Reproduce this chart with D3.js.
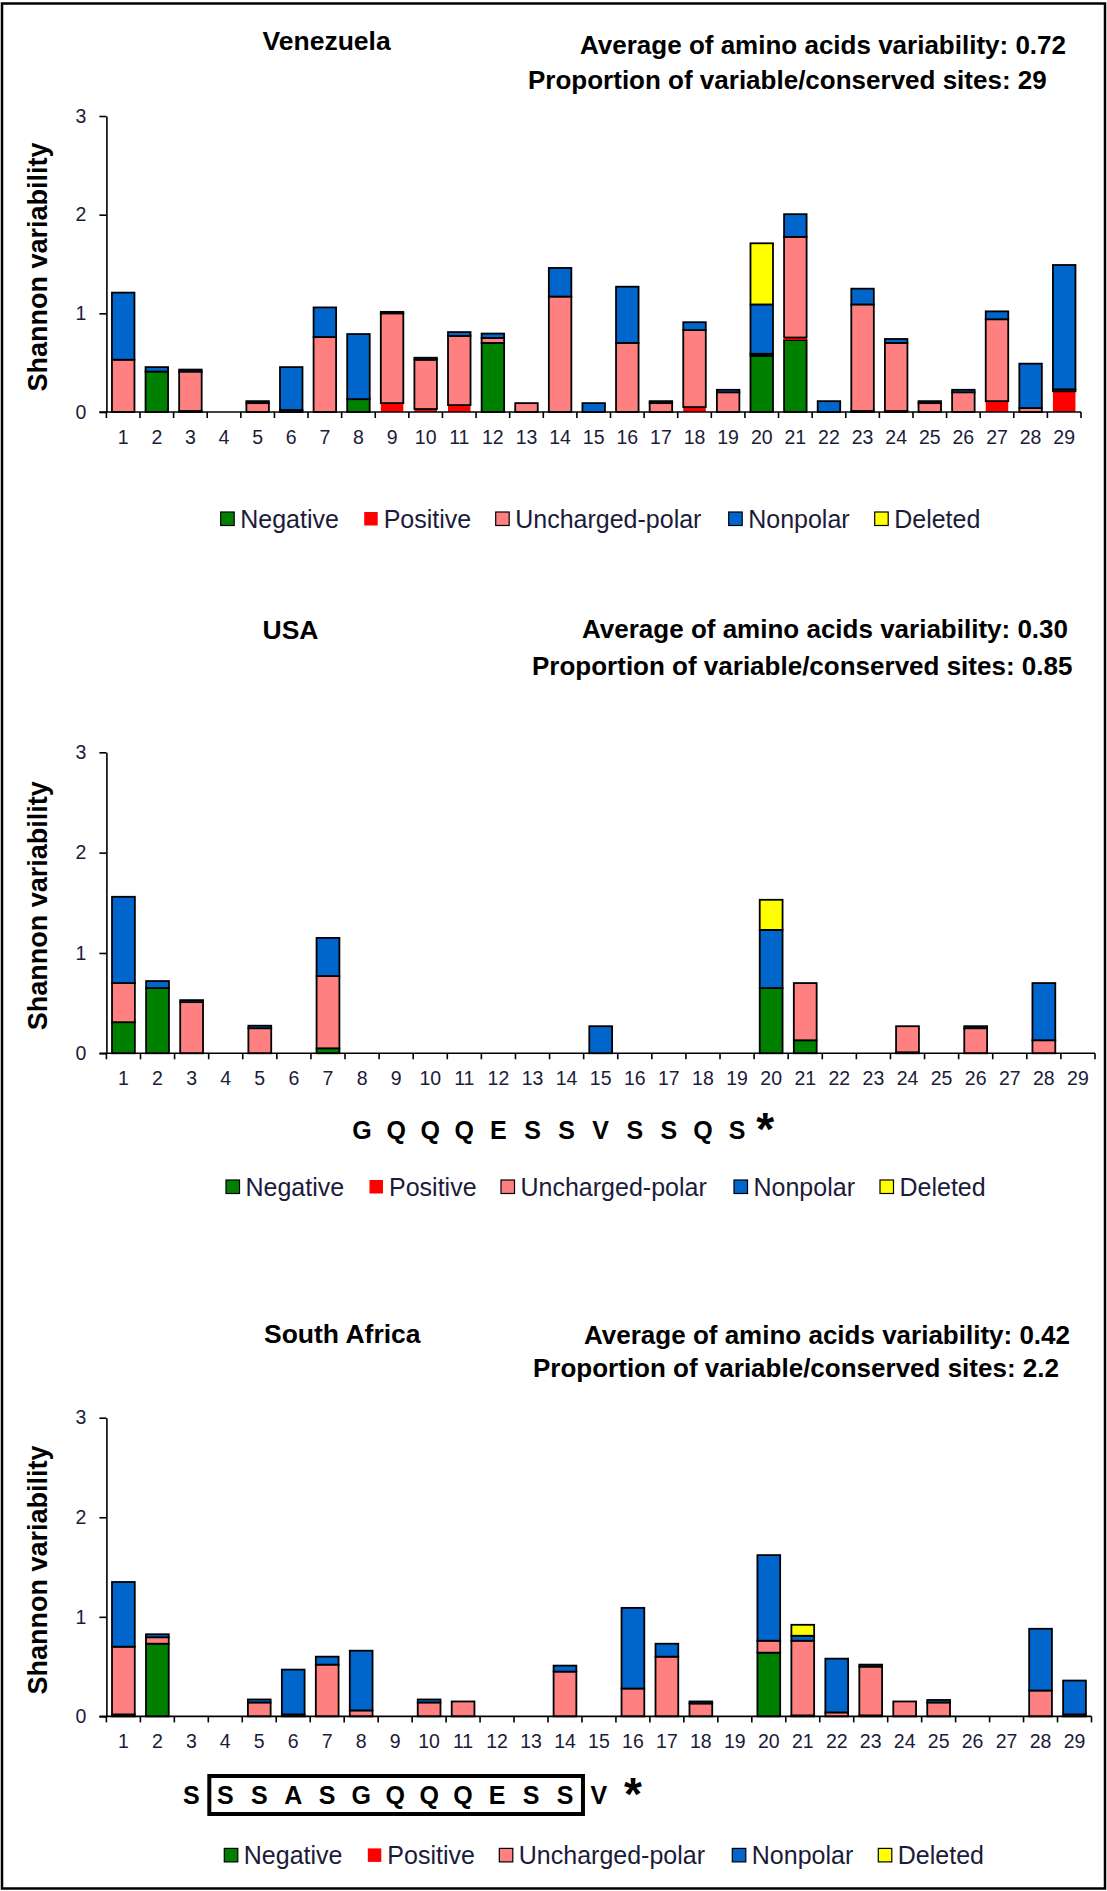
<!DOCTYPE html>
<html>
<head>
<meta charset="utf-8">
<script src="https://cdn.jsdelivr.net/npm/d3@7"></script>
<style>
  body { margin: 0; background: #fff; }
  svg { display: block; }
  text { font-family: "Liberation Sans", Arial, sans-serif; }
</style>
</head>
<body>
<div id="chart"></div>
<script>
// positions along the sequence
var sites = [1, 2, 3, 4, 5, 6, 7, 8, 9, 10, 11, 12, 13, 14, 15, 16, 17, 18, 19, 20, 21, 22, 23, 24, 25, 26, 27, 28, 29];
var yTicks = [0, 1, 2, 3];
var groups = ["Negative", "Positive", "Uncharged-polar", "Nonpolar", "Deleted"];

// Venezuela
var venNegative  = [0, 0.41, 0.01, 0, 0, 0, 0, 0.13, 0, 0, 0, 0.70, 0, 0, 0, 0, 0, 0, 0, 0.57, 0.73, 0, 0.01, 0.01, 0, 0, 0, 0, 0];
var venPositive  = [0, 0, 0, 0, 0, 0, 0, 0, 0.09, 0.03, 0.07, 0, 0, 0, 0, 0, 0, 0.05, 0, 0, 0.025, 0, 0, 0, 0, 0, 0.11, 0, 0.21];
var venUncharged = [0.53, 0, 0.40, 0, 0.09, 0.02, 0.76, 0, 0.91, 0.50, 0.70, 0.05, 0.09, 1.17, 0, 0.70, 0.09, 0.78, 0.20, 0.02, 1.02, 0, 1.08, 0.69, 0.09, 0.20, 0.83, 0.04, 0.02];
var venNonpolar  = [0.68, 0.045, 0.02, 0, 0.02, 0.435, 0.30, 0.66, 0.015, 0.02, 0.04, 0.045, 0, 0.29, 0.09, 0.57, 0.02, 0.08, 0.025, 0.50, 0.23, 0.11, 0.16, 0.04, 0.02, 0.025, 0.08, 0.45, 1.26];
var venDeleted   = [0, 0, 0, 0, 0, 0, 0, 0, 0, 0, 0, 0, 0, 0, 0, 0, 0, 0, 0, 0.62, 0, 0, 0, 0, 0, 0, 0, 0, 0];

// USA
var usaNegative  = [0.31, 0.65, 0, 0, 0, 0, 0.05, 0, 0, 0, 0, 0, 0, 0, 0, 0, 0, 0, 0, 0.65, 0.13, 0, 0, 0.01, 0, 0, 0, 0, 0];
var usaPositive  = [0, 0, 0, 0, 0, 0, 0, 0, 0, 0, 0, 0, 0, 0, 0, 0, 0, 0, 0, 0, 0, 0, 0, 0, 0, 0, 0, 0, 0];
var usaUncharged = [0.39, 0, 0.51, 0, 0.25, 0, 0.72, 0, 0, 0, 0, 0, 0, 0, 0, 0, 0, 0, 0, 0, 0.57, 0, 0, 0.26, 0, 0.25, 0, 0.13, 0];
var usaNonpolar  = [0.86, 0.07, 0.02, 0, 0.025, 0, 0.38, 0, 0, 0, 0, 0, 0, 0, 0.27, 0, 0, 0, 0, 0.58, 0, 0, 0, 0, 0, 0.02, 0, 0.57, 0];
var usaDeleted   = [0, 0, 0, 0, 0, 0, 0, 0, 0, 0, 0, 0, 0, 0, 0, 0, 0, 0, 0, 0.30, 0, 0, 0, 0, 0, 0, 0, 0, 0];

// South Africa
var safNegative  = [0.02, 0.73, 0, 0, 0, 0, 0, 0, 0, 0, 0, 0, 0, 0, 0, 0, 0, 0, 0, 0.64, 0.01, 0, 0.01, 0, 0, 0, 0, 0, 0];
var safPositive  = [0, 0, 0, 0, 0, 0, 0, 0, 0, 0, 0, 0, 0, 0, 0, 0, 0, 0, 0, 0, 0, 0, 0, 0, 0, 0, 0, 0, 0];
var safUncharged = [0.68, 0.065, 0, 0, 0.14, 0.02, 0.52, 0.06, 0, 0.14, 0.15, 0, 0, 0.45, 0, 0.28, 0.60, 0.13, 0, 0.12, 0.75, 0.04, 0.49, 0.15, 0.14, 0, 0, 0.26, 0.02];
var safNonpolar  = [0.65, 0.03, 0, 0, 0.03, 0.45, 0.08, 0.60, 0, 0.03, 0, 0, 0, 0.06, 0, 0.81, 0.13, 0.02, 0, 0.86, 0.05, 0.54, 0.02, 0, 0.025, 0, 0, 0.62, 0.34];
var safDeleted   = [0, 0, 0, 0, 0, 0, 0, 0, 0, 0, 0, 0, 0, 0, 0, 0, 0, 0, 0, 0, 0.11, 0, 0, 0, 0, 0, 0, 0, 0];

// amino acid motifs written under the USA and South Africa charts
var usaMotif = ["G", "Q", "Q", "Q", "E", "S", "S", "V", "S", "S", "Q", "S"];
var usaMotifStart = 8;
var safMotif = ["S", "S", "S", "A", "S", "G", "Q", "Q", "Q", "E", "S", "S", "V"];
var safMotifStart = 3;
var safBoxFrom = 4, safBoxTo = 14;

var panels = [
    { title: "Venezuela", avg: "0.72", prop: "29",
      series: [venNegative, venPositive, venUncharged, venNonpolar, venDeleted] },
    { title: "USA", avg: "0.30", prop: "0.85",
      series: [usaNegative, usaPositive, usaUncharged, usaNonpolar, usaDeleted] },
    { title: "South Africa", avg: "0.42", prop: "2.2",
      series: [safNegative, safPositive, safUncharged, safNonpolar, safDeleted] }
];

// layout of each panel (pixels)
var layout = [
    { left: 106.4, right: 1081, top: 116, bottom: 412, titleX: 262.5, titleY: 49.5, avgX: 580, avgY: 53.6, propX: 528, propY: 89.3, legX: 220.7, legY: 519 },
    { left: 106.4, right: 1095, top: 752.3, bottom: 1053.3, titleX: 262.5, titleY: 639, avgX: 582, avgY: 638, propX: 532, propY: 674.5, legX: 226, legY: 1187, seqY: 1139 },
    { left: 106.4, right: 1091.5, top: 1417.7, bottom: 1716.4, titleX: 264, titleY: 1343, avgX: 584, avgY: 1344, propX: 533, propY: 1377, legX: 224.3, legY: 1855.4, seqY: 1804 }
];

var colors = ["#008000", "#FF0000", "#FF8080", "#0066CC", "#FFFF00"];
var legendOffsets = [0, 143.5, 275, 508, 654];
var labelColor = "#1b1b3a";

var width = 1107, height = 1891;

var svg = d3.select("#chart").append("svg")
    .attr("width", width)
    .attr("height", height);

svg.append("rect")
    .attr("x", 2).attr("y", 3.5)
    .attr("width", 1103).attr("height", 1885)
    .attr("fill", "none")
    .attr("stroke", "#000")
    .attr("stroke-width", 2.5);

var stack = d3.stack().keys(d3.range(groups.length));

panels.forEach(function(p, pi) {
    var L = layout[pi];
    var g = svg.append("g");

    var x = d3.scaleBand()
        .domain(sites)
        .range([L.left, L.right])
        .paddingInner(0.33)
        .paddingOuter(0.165);

    var y = d3.scaleLinear()
        .domain([0, 3])
        .range([L.bottom, L.top]);

    // one row per site, one column per group
    var rows = sites.map(function(s, i) {
        var r = { site: s };
        p.series.forEach(function(arr, k) { r[k] = arr[i]; });
        return r;
    });
    var stacked = stack(rows);

    stacked.forEach(function(layer, k) {
        g.append("g")
            .selectAll("rect")
            .data(layer.filter(function(d) { return d[1] - d[0] > 0; }))
            .enter()
            .append("rect")
            .attr("x", function(d) { return x(d.data.site); })
            .attr("width", x.bandwidth())
            .attr("y", function(d) { return y(d[1]); })
            .attr("height", function(d) { return y(d[0]) - y(d[1]); })
            .attr("fill", colors[k])
            .attr("stroke", k === 1 ? "none" : "#000")
            .attr("stroke-width", 1.8);
    });

    // y axis
    var yAxis = g.append("g")
        .attr("transform", "translate(" + L.left + ",0)")
        .call(d3.axisLeft(y).tickValues(yTicks).tickFormat(d3.format("d")).tickSize(7).tickSizeOuter(0).tickPadding(13));
    yAxis.select(".domain").attr("stroke", "#000").attr("stroke-width", 1.6);
    yAxis.selectAll(".tick line").attr("stroke", "#000").attr("stroke-width", 1.6);
    yAxis.selectAll(".tick text")
        .attr("fill", labelColor)
        .style("font-size", "19.5px")
        .style("font-family", "'Liberation Sans', Arial, sans-serif");

    // x axis line and ticks between the sites
    var step = x.step();
    var bounds = d3.range(sites.length + 1).map(function(i) { return L.left + i * step; });
    g.append("line")
        .attr("x1", L.left - 7).attr("x2", L.right)
        .attr("y1", L.bottom).attr("y2", L.bottom)
        .attr("stroke", "#000").attr("stroke-width", 1.6);
    g.selectAll(".xt")
        .data(bounds)
        .enter().append("line")
        .attr("x1", function(d) { return d; }).attr("x2", function(d) { return d; })
        .attr("y1", L.bottom).attr("y2", L.bottom + 6)
        .attr("stroke", "#000").attr("stroke-width", 1.6);
    g.selectAll(".xl")
        .data(sites)
        .enter().append("text")
        .attr("x", function(d) { return x(d) + x.bandwidth() / 2; })
        .attr("y", L.bottom + 32)
        .attr("text-anchor", "middle")
        .attr("fill", labelColor)
        .style("font-size", "19.5px")
        .text(function(d) { return d; });

    // y axis title
    g.append("text")
        .attr("transform", "translate(37.5," + ((L.top + L.bottom) / 2 + 3) + ") rotate(-90)")
        .attr("text-anchor", "middle")
        .attr("dy", "0.35em")
        .style("font-size", "27px")
        .style("font-weight", "bold")
        .text("Shannon variability");

    // titles
    g.append("text")
        .attr("x", L.titleX).attr("y", L.titleY)
        .style("font-size", "26.5px").style("font-weight", "bold")
        .text(p.title);
    g.append("text")
        .attr("x", L.avgX).attr("y", L.avgY)
        .style("font-size", "26px").style("font-weight", "bold")
        .text("Average of amino acids variability: " + p.avg);
    g.append("text")
        .attr("x", L.propX).attr("y", L.propY)
        .style("font-size", "26px").style("font-weight", "bold")
        .text("Proportion of variable/conserved sites: " + p.prop);

    // legend
    var leg = g.selectAll(".leg")
        .data(groups)
        .enter().append("g")
        .attr("transform", function(d, i) { return "translate(" + (L.legX + legendOffsets[i]) + "," + L.legY + ")"; });
    leg.append("rect")
        .attr("x", 0).attr("y", -7)
        .attr("width", 13.5).attr("height", 13.5)
        .attr("fill", function(d, i) { return colors[i]; })
        .attr("stroke", function(d, i) { return i === 1 ? "none" : "#000"; })
        .attr("stroke-width", 1.2);
    leg.append("text")
        .attr("x", 19.5).attr("y", 9)
        .attr("fill", labelColor)
        .style("font-size", "25px")
        .text(function(d) { return d; });

    // motifs
    var motif = null, start = 0;
    if (pi === 1) { motif = usaMotif; start = usaMotifStart; }
    if (pi === 2) { motif = safMotif; start = safMotifStart; }
    if (motif) {
        var centre = function(s) { return x(s) + x.bandwidth() / 2; };
        if (pi === 2) {
            g.append("rect")
                .attr("x", L.left + (safBoxFrom - 1) * step + 1)
                .attr("y", L.seqY - 28)
                .attr("width", (safBoxTo - safBoxFrom + 1) * step)
                .attr("height", 38)
                .attr("fill", "none")
                .attr("stroke", "#000")
                .attr("stroke-width", 4);
        }
        g.selectAll(".aa")
            .data(motif)
            .enter().append("text")
            .attr("x", function(d, i) { return centre(start + i); })
            .attr("y", L.seqY)
            .attr("text-anchor", "middle")
            .style("font-size", "25px").style("font-weight", "bold")
            .text(function(d) { return d; });
        g.append("text")
            .attr("x", centre(start + motif.length) - (pi === 1 ? 6 : 0))
            .attr("y", L.seqY + 6)
            .attr("text-anchor", "middle")
            .style("font-size", "46px").style("font-weight", "bold")
            .text("*");
    }
});
</script>
</body>
</html>
